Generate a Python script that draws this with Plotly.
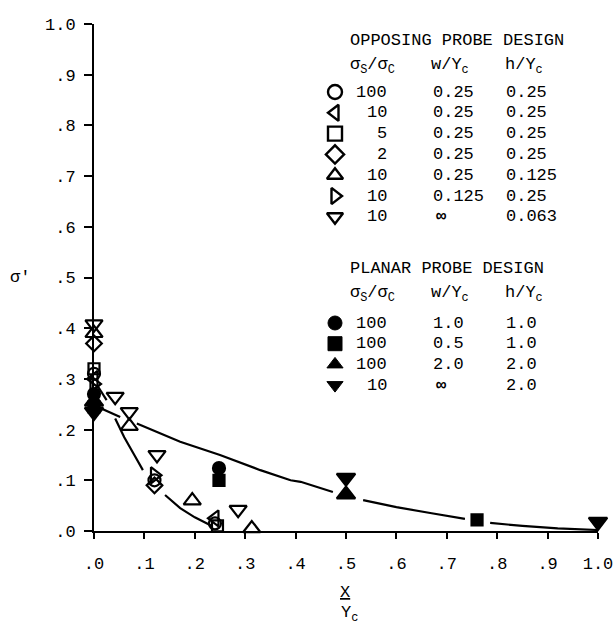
import plotly.graph_objects as go

# ---------------- data ----------------
x_ticks = [0.0, 0.1, 0.2, 0.3, 0.4, 0.5, 0.6, 0.7, 0.8, 0.9, 1.0]
x_tick_labels = [".0", ".1", ".2", ".3", ".4", ".5", ".6", ".7", ".8", ".9", "1.0"]
y_ticks = [0.0, 0.1, 0.2, 0.3, 0.4, 0.5, 0.6, 0.7, 0.8, 0.9, 1.0]
y_tick_labels = [".0", ".1", ".2", ".3", ".4", ".5", ".6", ".7", ".8", ".9", "1.0"]

# opposing probe design (open symbols)
opp_circle_x = [0.0, 0.12, 0.24]
opp_circle_y = [0.31, 0.10, 0.015]
opp_tleft_x = [0.0, 0.24]
opp_tleft_y = [0.30, 0.025]
opp_square_x = [0.0, 0.245]
opp_square_y = [0.32, 0.01]
opp_diamond_x = [0.0, 0.12, 0.245]
opp_diamond_y = [0.37, 0.09, -0.005]
opp_tup_x = [0.0, 0.07, 0.195, 0.313]
opp_tup_y = [0.39, 0.207, 0.06, 0.005]
opp_tright_x = [0.0, 0.12]
opp_tright_y = [0.29, 0.11]
opp_tdown_x = [0.0, 0.042, 0.07, 0.125, 0.286]
opp_tdown_y = [0.408, 0.265, 0.235, 0.15, 0.042]

# planar probe design (filled symbols)
pl_circle_x = [0.0, 0.248]
pl_circle_y = [0.27, 0.124]
pl_square_x = [0.0, 0.248, 0.76]
pl_square_y = [0.245, 0.10, 0.022]
pl_tup_x = [0.0, 0.5]
pl_tup_y = [0.255, 0.072]
pl_tdown_x = [0.0, 0.5, 1.0]
pl_tdown_y = [0.235, 0.105, 0.018]

# fitted curves (gaps where the curves are broken around symbols)
upper_x = [0.0, 0.052, None, 0.085, 0.171, 0.25, 0.33, 0.39, 0.41, 0.474, None,
           0.534, 0.6, 0.67, 0.736, None, 0.786, 0.85, 0.92, 1.0]
upper_y = [0.248, 0.225, None, 0.212, 0.176, 0.150, 0.120, 0.100, 0.097, 0.077, None,
           0.061, 0.047, 0.035, 0.024, None, 0.016, 0.010, 0.005, 0.002]
lower_x = [0.006, 0.025, None, 0.042, 0.06, 0.08, 0.097, None, 0.141, 0.171, 0.2, 0.234]
lower_y = [0.288, 0.258, None, 0.222, 0.185, 0.150, 0.120, None, 0.071, 0.045, 0.027, 0.010]

# legend table
opp_symbols = ["circle-open", "triangle-left-open", "square-open", "diamond-open",
               "triangle-up-open", "triangle-right-open", "triangle-down-open"]
opp_ratio = ["100", "10", "5", "2", "10", "10", "10"]
opp_w = ["0.25", "0.25", "0.25", "0.25", "0.25", "0.125", "∞"]
opp_h = ["0.25", "0.25", "0.25", "0.25", "0.125", "0.25", "0.063"]
pl_symbols = ["circle", "square", "triangle-up", "triangle-down"]
pl_ratio = ["100", "100", "100", "10"]
pl_w = ["1.0", "0.5", "2.0", "∞"]
pl_h = ["1.0", "1.0", "2.0", "2.0"]

# ---------------- layout constants ----------------
W, H = 614, 630
X0, X1 = 94, 598      # pixel x of data 0 and 1
Y0, Y1 = 531, 24      # pixel y of data 0 and 1
FONT = "Liberation Mono"
FS = 17

fig = go.Figure()

line_style = dict(color="black", width=2.2)
fig.add_trace(go.Scatter(x=upper_x, y=upper_y, mode="lines", line=line_style,
                         connectgaps=False, cliponaxis=False))
fig.add_trace(go.Scatter(x=lower_x, y=lower_y, mode="lines", line=line_style,
                         connectgaps=False, cliponaxis=False))

def pts(x, y, symbol, size):
    fig.add_trace(go.Scatter(
        x=x, y=y, mode="markers", cliponaxis=False,
        marker=dict(symbol=symbol, size=size, color="black",
                    line=dict(color="black", width=2.2))))

pts(opp_circle_x, opp_circle_y, "circle-open", 12)
pts(opp_tleft_x, opp_tleft_y, "triangle-left-open", 14)
pts(opp_square_x, opp_square_y, "square-open", 11)
pts(opp_diamond_x, opp_diamond_y, "diamond-open", 12)
pts(opp_tup_x, opp_tup_y, "triangle-up-open", 15)
pts(opp_tright_x, opp_tright_y, "triangle-right-open", 14)
pts(opp_tdown_x, opp_tdown_y, "triangle-down-open", 15)
pts(pl_circle_x, pl_circle_y, "circle", 12)
pts(pl_square_x, pl_square_y, "square", 11)
pts(pl_tup_x, pl_tup_y, "triangle-up", 16)
pts(pl_tdown_x, pl_tdown_y, "triangle-down", 16)

# ---------------- legend (pixel-coordinate overlay axes) ----------------
SYM_X = 335
opp_rows = [92 + 20.8 * i for i in range(len(opp_ratio))]
pl_rows = [323 + 20.7 * i for i in range(len(pl_ratio))]

fig.add_trace(go.Scatter(
    x=[SYM_X] * len(opp_symbols), y=opp_rows, mode="markers", xaxis="x2", yaxis="y2",
    cliponaxis=False,
    marker=dict(symbol=opp_symbols, size=14, color="black", line=dict(color="black", width=2.4))))
fig.add_trace(go.Scatter(
    x=[SYM_X] * len(pl_symbols), y=pl_rows, mode="markers", xaxis="x2", yaxis="y2",
    cliponaxis=False,
    marker=dict(symbol=pl_symbols, size=14, color="black", line=dict(color="black", width=1))))

annotations = []

def txt(text, px, py, anchor="left", size=FS):
    annotations.append(dict(
        text=text, x=px / W, y=1 - py / H, xref="paper", yref="paper",
        xanchor=anchor, yanchor="middle", showarrow=False,
        font=dict(family=FONT, size=size, color="black")))

header_ratio = "σ<sub>S</sub>/σ<sub>C</sub>"
header_w = "w/Y<sub>c</sub>"
header_h = "h/Y<sub>c</sub>"

def wtext(s):
    return "<b>∞</b>" if s == "∞" else s

txt("OPPOSING PROBE DESIGN", 348, 40)
txt(header_ratio, 348, 66)
txt(header_w, 429, 66)
txt(header_h, 503, 66)
for i, yy in enumerate(opp_rows):
    txt(opp_ratio[i], 389, yy, "right")
    txt(wtext(opp_w[i]), 431 if opp_w[i] != "∞" else 434, yy)
    txt(opp_h[i], 504, yy)

txt("PLANAR PROBE DESIGN", 348, 268)
txt(header_ratio, 348, 294)
txt(header_w, 429, 294)
txt(header_h, 503, 294)
for i, yy in enumerate(pl_rows):
    txt(pl_ratio[i], 389, yy, "right")
    txt(wtext(pl_w[i]), 431 if pl_w[i] != "∞" else 434, yy)
    txt(pl_h[i], 504, yy)

# axis titles
txt("σ'", 20, 277, "center")
txt("<u>X</u>", 345, 592, "center")
txt("Y<sub>c</sub>", 349, 614, "center")

fig.update_layout(
    width=W, height=H,
    margin=dict(l=0, r=0, t=0, b=0),
    paper_bgcolor="white", plot_bgcolor="rgba(0,0,0,0)",
    showlegend=False,
    annotations=annotations,
    xaxis=dict(domain=[X0 / W, X1 / W], range=[0, 1], tickvals=x_ticks,
               ticktext=x_tick_labels, showline=True, linecolor="black", linewidth=2,
               ticks="outside", ticklen=6, tickwidth=2, tickcolor="black",
               showgrid=False, zeroline=False, ticklabelstandoff=10, automargin=False,
               tickfont=dict(family=FONT, size=FS, color="black"), anchor="y"),
    yaxis=dict(domain=[1 - Y0 / H, 1 - Y1 / H], range=[0, 1], tickvals=y_ticks,
               ticktext=y_tick_labels, showline=True, linecolor="black", linewidth=2,
               ticks="outside", ticklen=8, tickwidth=2, tickcolor="black",
               showgrid=False, zeroline=False, ticklabelstandoff=5, automargin=False,
               tickfont=dict(family=FONT, size=FS, color="black"), anchor="x"),
    xaxis2=dict(domain=[0, 1], range=[0, W], visible=False, anchor="y2", fixedrange=True,
                automargin=False),
    yaxis2=dict(domain=[0, 1], range=[H, 0], visible=False, anchor="x2", fixedrange=True,
                automargin=False),
)

fig.write_html("out.html", config={"displayModeBar": False},
               post_script="document.body.style.margin='0';document.body.style.overflow='hidden';")
